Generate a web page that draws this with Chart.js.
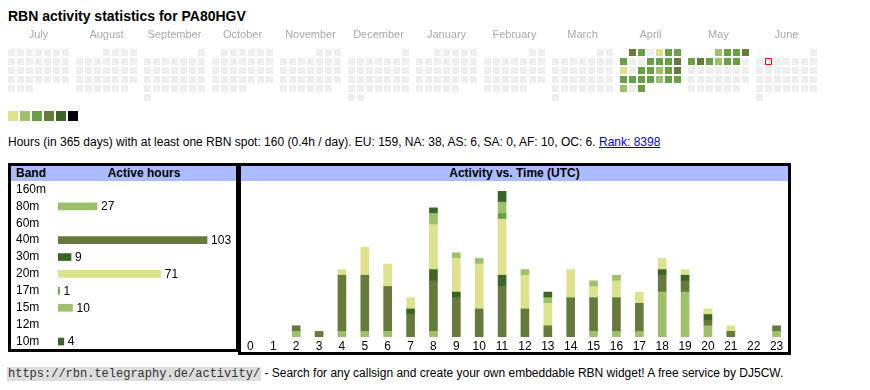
<!DOCTYPE html>
<html>
<head>
<meta charset="utf-8">
<script src="https://cdn.jsdelivr.net/npm/chart.js@4.4.0/dist/chart.umd.min.js"></script>
<style>
  body { margin:0; width:870px; height:390px; background:#fff; font-family: Arial, "Liberation Sans", sans-serif; font-size:12px; color:#000; position:relative; overflow:hidden; }
  h1 { position:absolute; left:8px; top:7px; margin:0; font-size:14px; font-weight:bold; line-height:18px; white-space:nowrap; }
  canvas { position:absolute; }
  .sq { position:absolute; top:111px; width:10px; height:10px; }
  #info { position:absolute; left:8px; top:135px; line-height:14px; white-space:nowrap; }
  #info a { color:#0000ee; }
  .box { position:absolute; top:163px; border:3px solid #000; box-sizing:border-box; }
  .hdr { position:absolute; left:0; right:0; top:0; height:15px; line-height:15px; background:#aabbff; font-weight:bold; white-space:nowrap; }
  .hdr span { position:absolute; top:0; }
  #foot { position:absolute; left:7px; top:366px; line-height:15px; white-space:nowrap; }
  #foot code { font-family:"Liberation Mono", "DejaVu Sans Mono", monospace; font-size:12px; background:#dddddd; color:#333; padding:0 1px; }
</style>
</head>
<body>
<h1>RBN activity statistics for PA80HGV</h1>
<canvas id="calendar" width="870" height="85" style="left:0;top:20px"></canvas>
<div id="legend"></div>
<div id="info">Hours (in 365 days) with at least one RBN spot: 160 (0.4h / day). EU: 159, NA: 38, AS: 6, SA: 0, AF: 10, OC: 6. <a href="#">Rank: 8398</a></div>

<div class="box" style="left:238px;width:553px;height:192px">
  <div class="hdr"><span style="left:0;right:0;text-align:center">Activity vs. Time (UTC)</span></div>
</div>
<div class="box" style="left:8px;width:231px;height:189px">
  <div class="hdr"><span style="left:5px">Band</span><span style="left:41px;width:184px;text-align:center">Active hours</span></div>
</div>
<canvas id="bandChart" width="220" height="169" style="left:16px;top:181px"></canvas>
<canvas id="timeChart" width="549" height="172" style="left:239px;top:181px"></canvas>

<div id="foot"><code>https://rbn.telegraphy.de/activity/</code> - Search for any callsign and create your own embeddable RBN widget! A free service by DJ5CW.</div>

<script>
Chart.defaults.font.family = 'Arial, "Liberation Sans", sans-serif';

// Kalender: Monate Juli 2024 - Juni 2025
const monthNames = ['July', 'August', 'September', 'October', 'November', 'December', 'January', 'February', 'March', 'April', 'May', 'June'];
const activeDays = [
  '2025-04-01', '2025-04-02', '2025-04-04', '2025-04-05', '2025-04-06', '2025-04-07',
  '2025-04-10', '2025-04-11', '2025-04-12', '2025-04-13', '2025-04-14', '2025-04-16',
  '2025-04-17', '2025-04-18', '2025-04-19', '2025-04-20', '2025-04-21', '2025-04-22',
  '2025-04-23', '2025-04-24', '2025-04-25', '2025-04-26', '2025-04-27', '2025-04-28',
  '2025-04-30', '2025-05-01', '2025-05-02', '2025-05-03', '2025-05-04', '2025-05-05',
  '2025-05-06', '2025-05-07', '2025-05-08', '2025-05-09', '2025-05-10'
];
const activeLevels = [
  4, 3, 1, 3, 3, 3,
  3, 3, 3, 4, 1, 3,
  3, 2, 3, 4, 3, 3,
  3, 3, 2, 3, 3, 2,
  3, 2, 3, 3, 4, 3,
  4, 3, 2, 3, 3
];
const todayDay = '2025-06-03';
const levelColors = ['#eeeeee', '#dce38c', '#9dc16b', '#69a046', '#667a3b', '#3b6527', '#000000'];

// Baender und Stunden
const bands = ['160m', '80m', '60m', '40m', '30m', '20m', '17m', '15m', '12m', '10m'];
const bandHours = [0, 27, 0, 103, 9, 71, 1, 10, 0, 4];
const bandColors = ['#69a046', '#9dc16b', '#dce38c', '#667a3b', '#3b6527', '#dce38c', '#69a046', '#9dc16b', '#667a3b', '#3b6527'];

const hourLabels = ['0','1','2','3','4','5','6','7','8','9','10','11','12','13','14','15','16','17','18','19','20','21','22','23'];
const hours160m = [0,0,0,0,0,0,0,0,0,0,0,0,0,0,0,0,0,0,0,0,0,0,0,0];
const hours80m  = [0,0,1,0,1,1,1,0,1,0,0,0,0,0,0,1,1,1,8,8,2,0,0,1];
const hours60m  = [0,0,0,0,0,0,0,0,0,0,0,0,0,0,0,0,0,0,0,0,0,0,0,0];
const hours40m  = [0,0,1,1,10,10,8,4,9,7,5,9,5,2,7,6,6,5,3,2,1,1,0,1];
const hours30m  = [0,0,0,0,0,0,0,1,2,1,0,2,0,0,0,0,0,0,1,1,1,0,0,0];
const hours20m  = [0,0,0,0,1,5,4,2,8,6,8,10,6,4,5,2,3,2,2,1,1,1,0,0];
const hours17m  = [0,0,0,0,0,0,0,0,0,0,0,1,0,0,0,0,0,0,0,0,0,0,0,0];
const hours15m  = [0,0,0,0,0,0,0,0,2,1,1,2,1,1,0,1,1,0,0,0,0,0,0,0];
const hours12m  = [0,0,0,0,0,0,0,0,0,0,0,0,0,0,0,0,0,0,0,0,0,0,0,0];
const hours10m  = [0,0,0,0,0,0,0,0,1,0,0,2,0,1,0,0,0,0,0,0,0,0,0,0];
const hourlyByBand = [hours160m, hours80m, hours60m, hours40m, hours30m, hours20m, hours17m, hours15m, hours12m, hours10m];

// leere Werte gar nicht zeichnen
const noZero = arr => arr.map(v => (v > 0 ? v : null));

// --- Kalender-Punkte aufbauen ---
const pad2 = n => String(n).padStart(2, '0');
const calPoints = [];
monthNames.forEach((name, m) => {
  const year = m < 6 ? 2024 : 2025;
  const mon = (6 + m) % 12;
  const days = new Date(Date.UTC(year, mon + 1, 0)).getUTCDate();
  const firstWd = (new Date(Date.UTC(year, mon, 1)).getUTCDay() + 6) % 7;
  for (let d = 1; d <= days; d++) {
    const key = year + '-' + pad2(mon + 1) + '-' + pad2(d);
    const idx = activeDays.indexOf(key);
    calPoints.push({
      x: m * 68 / 9 + (firstWd + d - 1) % 7,
      y: Math.floor((firstWd + d - 1) / 7),
      level: idx >= 0 ? activeLevels[idx] : 0,
      today: key === todayDay
    });
  }
});

new Chart(document.getElementById('calendar'), {
  type: 'scatter',
  data: {
    datasets: [{
      data: calPoints,
      pointStyle: 'rect',
      pointRadius: c => c.raw && c.raw.today ? 3 / Math.SQRT1_2 : 3.5 / Math.SQRT1_2,
      backgroundColor: c => levelColors[c.raw ? c.raw.level : 0],
      borderColor: c => c.raw && c.raw.today ? '#ff0000' : 'rgba(0,0,0,0)',
      borderWidth: c => c.raw && c.raw.today ? 1 : 0,
      clip: false
    }]
  },
  options: {
    animation: false,
    responsive: false,
    events: [],
    layout: { padding: 0, autoPadding: false },
    plugins: { legend: { display: false }, tooltip: { enabled: false } },
    scales: {
      x: {
        type: 'linear',
        position: 'top',
        min: -11.5 / 9,
        max: (870 - 11.5) / 9,
        grid: { display: false, drawTicks: false },
        border: { display: false },
        afterBuildTicks: s => { s.ticks = monthNames.map((n, i) => ({ value: i * 68 / 9 + 3 })); },
        afterFit: s => { s.height = 25; },
        ticks: {
          callback: (v, i) => monthNames[i],
          autoSkip: false,
          maxRotation: 0,
          padding: 3,
          color: '#aaaaaa',
          font: { size: 11 }
        }
      },
      y: { display: false, reverse: true, min: -7.5 / 9, max: -7.5 / 9 + 60 / 9 }
    }
  }
});

// Legende unter dem Kalender
const legendBox = document.getElementById('legend');
levelColors.slice(1).forEach((col, i) => {
  const sq = document.createElement('div');
  sq.className = 'sq';
  sq.style.left = (8 + i * 12) + 'px';
  sq.style.background = col;
  legendBox.appendChild(sq);
});

// Zahlen hinter den Balken
const valueLabels = {
  id: 'valueLabels',
  afterDatasetsDraw(chart) {
    const ctx = chart.ctx;
    const meta = chart.getDatasetMeta(0);
    ctx.save();
    ctx.font = '12px Arial, "Liberation Sans", sans-serif';
    ctx.fillStyle = '#000';
    ctx.textBaseline = 'middle';
    meta.data.forEach((bar, i) => {
      if (bandHours[i] > 0) ctx.fillText(bandHours[i], bar.x + 4, bar.y + 0.5);
    });
    ctx.restore();
  }
};

new Chart(document.getElementById('bandChart'), {
  type: 'bar',
  data: {
    labels: bands,
    datasets: [{ data: noZero(bandHours), backgroundColor: bandColors, barThickness: 7 }]
  },
  options: {
    indexAxis: 'y',
    animation: false,
    responsive: false,
    events: [],
    layout: { padding: 0 },
    plugins: { legend: { display: false }, tooltip: { enabled: false } },
    scales: {
      x: { display: false, min: 0, max: 123 },
      y: {
        grid: { display: false, drawTicks: false },
        border: { display: false },
        afterFit: s => { s.width = 42; s.paddingTop = 0; s.paddingBottom = 0; },
        ticks: { crossAlign: 'far', autoSkip: false, padding: 0, color: '#000', font: { size: 12 } }
      }
    }
  },
  plugins: [valueLabels]
});

new Chart(document.getElementById('timeChart'), {
  type: 'bar',
  data: {
    labels: hourLabels,
    datasets: bands.map((b, i) => ({
      label: b,
      data: noZero(hourlyByBand[i]),
      backgroundColor: bandColors[i],
      barThickness: 8
    }))
  },
  options: {
    animation: false,
    responsive: false,
    events: [],
    layout: { padding: { top: 10 } },
    plugins: { legend: { display: false }, tooltip: { enabled: false } },
    scales: {
      x: {
        stacked: true,
        grid: { display: false, drawTicks: false },
        border: { display: false },
        afterFit: s => { s.height = 16; },
        ticks: { padding: 2, autoSkip: false, maxRotation: 0, color: '#000', font: { size: 12 } }
      },
      y: { stacked: true, display: false, min: 0, max: 26 }
    }
  }
});
</script>
</body>
</html>
